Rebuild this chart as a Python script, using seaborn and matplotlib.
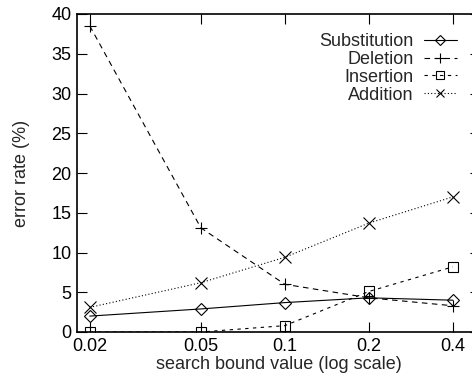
import matplotlib
matplotlib.use("Agg")
import matplotlib.pyplot as plt
import seaborn as sns
import pandas as pd

bounds = [0.02, 0.05, 0.1, 0.2, 0.4]
substitution = [2.0, 2.9, 3.7, 4.3, 4.0]
deletion = [38.5, 13.1, 6.0, 4.3, 3.3]
insertion = [0.0, 0.0, 0.8, 5.1, 8.2]
addition = [3.1, 6.2, 9.4, 13.7, 17.0]
tick_labels = ["0.02", "0.05", "0.1", "0.2", "0.4"]

sns.set_theme(style="ticks")
plt.rcParams["font.family"] = ["Liberation Sans", "DejaVu Sans"]

W, H = 472, 376
fs = 13
fig = plt.figure(figsize=(W / 100, H / 100), dpi=100)
left, right, bottom, top = 77, 480, 332, 14
ax = fig.add_axes([left / W, 1 - bottom / H, (right - left) / W, (bottom - top) / H])

series = [
    ("Substitution", substitution, dict(marker="D", linestyle="-", markersize=6.5)),
    ("Deletion", deletion, dict(marker="+", linestyle=(0, (5, 4)), markersize=9)),
    ("Insertion", insertion, dict(marker="s", linestyle=(0, (3, 4)), markersize=7.5)),
    ("Addition", addition, dict(marker="x", linestyle=(0, (1, 2)), markersize=8)),
]

for name, vals, st in series:
    df = pd.DataFrame({"bound": bounds, "rate": vals})
    sns.lineplot(data=df, x="bound", y="rate", ax=ax, color="black", linewidth=0.8,
                 markerfacecolor="none", markeredgecolor="black", markeredgewidth=0.8,
                 label=name, **st)

ax.set_xscale("log")
ax.set_xlim(0.018, 0.5)
ax.set_ylim(0, 40)
ax.set_xticks(bounds)
ax.set_xticklabels(tick_labels)
ax.xaxis.set_minor_locator(matplotlib.ticker.NullLocator())
ax.set_yticks(range(0, 41, 5))
ax.tick_params(direction="in", length=7, width=0.8, top=True, right=True,
               labelsize=fs, colors="black", pad=4)
for sp in ax.spines.values():
    sp.set_linewidth(1.2)
    sp.set_color("black")

ax.set_xlabel("search bound value (log scale)", fontsize=fs, labelpad=1)
ax.set_ylabel("error rate (%)", fontsize=fs, labelpad=15)

leg = ax.legend(loc="upper right", bbox_to_anchor=(457 / W, 1 - 33 / H), bbox_transform=fig.transFigure,
                frameon=False, markerfirst=False, fontsize=fs, handlelength=1.85, markerscale=0.75,
                handletextpad=0.55, labelspacing=0.05, borderpad=0, borderaxespad=0)

fig.savefig("out.png", dpi=100)
